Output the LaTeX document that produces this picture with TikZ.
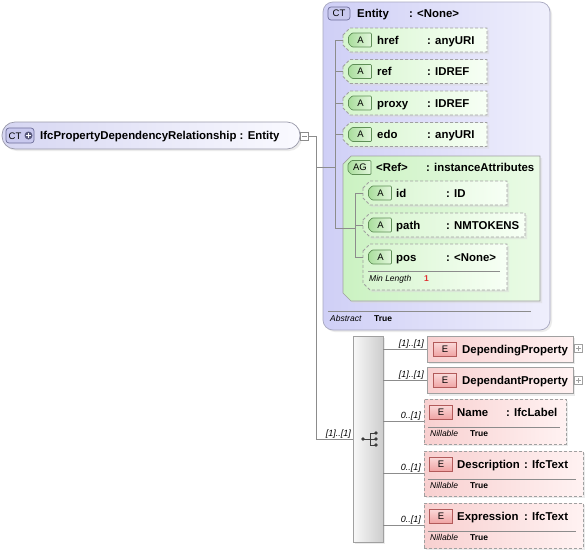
\documentclass[tikz,border=0pt]{standalone}
\usepackage{fontspec}
\setmainfont{Liberation Sans}
\usetikzlibrary{shadows}
\definecolor{linegray}{HTML}{8C8C8C}
\definecolor{dashgray}{HTML}{A0A0A0}
\definecolor{pillL}{HTML}{D6D6F2}
\definecolor{pillR}{HTML}{FAFAFF}
\definecolor{pillBd}{HTML}{9A9AAA}
\definecolor{entL}{HTML}{CFCFF6}
\definecolor{entR}{HTML}{EFEFFC}
\definecolor{entBd}{HTML}{A8A8C0}
\definecolor{attrL}{HTML}{D6F5CE}
\definecolor{attrR}{HTML}{F7FFF5}
\definecolor{agL}{HTML}{CBF2C2}
\definecolor{agR}{HTML}{EAFBE6}
\definecolor{elL}{HTML}{F8D0D0}
\definecolor{elR}{HTML}{FFF2F2}
\definecolor{ctBf}{HTML}{C9C9EE}
\definecolor{ctBd}{HTML}{6E6E9A}
\definecolor{aBfL}{HTML}{A9DD9C}
\definecolor{aBfR}{HTML}{E3F7DD}
\definecolor{aBd}{HTML}{5E8E56}
\definecolor{eBfT}{HTML}{FBDADA}
\definecolor{eBfB}{HTML}{EFA3A3}
\definecolor{eBd}{HTML}{B25A5A}
\definecolor{seqL}{HTML}{F8F8F8}
\definecolor{seqR}{HTML}{CDCDCD}
\definecolor{minred}{HTML}{E03030}
\definecolor{icon}{HTML}{3C3C3C}
% chamfered outline round a named node: #1 node, #2 chamfer, #3 style
\newcommand\chamfshape[3]{%
  \path[#3] ([yshift=-#2]#1.north west) -- ([xshift=#2]#1.north west) -- (#1.north east)
    -- (#1.south east) -- ([xshift=#2]#1.south west) -- ([yshift=#2]#1.south west) -- cycle;}
% attribute badge: #1 name, #2 x, #3 y, #4 text
\newcommand\attrbadge[4]{%
  \node[anchorbox, minimum width=23pt, minimum height=14pt] (#1) at (#2,#3) {};
  \chamfshape{#1}{3.5pt}{abadgefill}
  \node[badgetxt] (#1t) at ([xshift=0.5pt]#1.center) {#4};}
\tikzset{
  conn/.style={draw=linegray, line width=0.7pt},
  sepline/.style={draw=linegray, line width=0.6pt},
  txt/.style={inner sep=0pt, anchor=base west, font=\fontsize{11.4}{13}\selectfont\bfseries},
  small/.style={inner sep=0pt, anchor=base west, font=\fontsize{8.5}{10}\selectfont\itshape},
  smallb/.style={inner sep=0pt, anchor=base west, font=\fontsize{8.5}{10}\selectfont\bfseries},
  occ/.style={inner sep=0pt, anchor=base east, font=\fontsize{9}{10}\selectfont\itshape},
  shad/.style={drop shadow={shadow xshift=2pt, shadow yshift=-2pt, fill=black!15}},
  anchorbox/.style={rectangle, inner sep=0pt, outer sep=0pt},
  pill/.style={rectangle, rounded corners=13pt, draw=pillBd, line width=0.7pt, left color=pillL, right color=pillR, minimum width=298pt, minimum height=27pt, inner sep=0pt, shad},
  ctbox/.style={rectangle, rounded corners=10pt, draw=entBd, line width=0.7pt, left color=entL, right color=entR, inner sep=0pt, shad},
  attrfill/.style={draw=dashgray, dash pattern=on 3pt off 2pt, line width=0.8pt, left color=attrL, right color=attrR, shad},
  agfill/.style={draw=dashgray, line width=0.7pt, left color=agL, right color=agR, shad},
  abadgefill/.style={draw=aBd, line width=0.7pt, left color=aBfL, right color=aBfR, rounded corners=1pt},
  badgetxt/.style={inner sep=0pt, font=\fontsize{9.5}{10}\selectfont},
  elbox/.style={rectangle, draw=dashgray, line width=0.8pt, left color=elL, right color=elR, inner sep=0pt, shad},
  optel/.style={elbox, dash pattern=on 3pt off 2pt},
  seqbox/.style={rectangle, draw=dashgray, line width=0.7pt, left color=seqL, right color=seqR, minimum width=30pt, minimum height=206pt, inner sep=0pt, shad},
  ctbadge/.style={rectangle, rounded corners=3pt, draw=ctBd, line width=0.7pt, fill=ctBf, minimum width=22pt, minimum height=13pt, inner sep=0pt, font=\fontsize{9.5}{10}\selectfont},
  ebadge/.style={rectangle, draw=eBd, line width=0.7pt, top color=eBfT, bottom color=eBfB, minimum width=23pt, minimum height=14pt, inner sep=0pt, font=\fontsize{9.5}{10}\selectfont},
  expbox/.style={rectangle, draw=linegray, line width=0.6pt, fill=white, minimum size=8pt, inner sep=0pt},
}
\begin{document}
\begin{tikzpicture}[x=1pt,y=-1pt]
\useasboundingbox (0,0) rectangle (587,555);
\fill[white] (0,0) rectangle (587,555);

% ---------- root ----------
\node[pill] (root) at (151,135.5) {};
\node[ctbadge, minimum width=28pt, minimum height=15pt] (rootct) at (20,135.5) {};
\node[inner sep=0pt, anchor=base west, font=\fontsize{9.5}{10}\selectfont] (rootcttxt) at (8.5,139) {CT};
\node[circle, fill=ctBd!80!black, minimum size=8pt, inner sep=0pt] (rootplus) at (28.5,135.5) {};
\draw[white, line width=1.2pt] ([xshift=-2.5pt]rootplus.center) -- ([xshift=2.5pt]rootplus.center);
\draw[white, line width=1.2pt] ([yshift=-2.5pt]rootplus.center) -- ([yshift=2.5pt]rootplus.center);
\node[txt] (rootlbl) at (40,139.5) {IfcPropertyDependencyRelationship : Entity};
\node[expbox] (rootminus) at (304,136) {};
\draw[linegray, line width=0.6pt] ([xshift=-2.5pt]rootminus.center) -- ([xshift=2.5pt]rootminus.center);

% ---------- Entity ----------
\node[ctbox, minimum width=227pt, minimum height=328pt] (entity) at (436.5,166) {};
\node[ctbadge] (entct) at (339,13.5) {CT};
\node[txt] (entname) at (357,17.5) {Entity};
\node[txt] (enttype) at (409,17.5) {: <None>};

\node[anchorbox, minimum width=144pt, minimum height=24pt] (href) at (415,40) {};
\chamfshape{href}{7pt}{attrfill}
\attrbadge{hrefA}{360}{40}{A}
\node[txt] (hrefn) at (377,44) {href};
\node[txt] (hreft) at (427,44) {: anyURI};

\node[anchorbox, minimum width=144pt, minimum height=24pt] (ref) at (415,71.5) {};
\chamfshape{ref}{7pt}{attrfill}
\attrbadge{refA}{360}{71.5}{A}
\node[txt] (refn) at (377,75.5) {ref};
\node[txt] (reft) at (427,75.5) {: IDREF};

\node[anchorbox, minimum width=144pt, minimum height=24pt] (proxy) at (415,103) {};
\chamfshape{proxy}{7pt}{attrfill}
\attrbadge{proxyA}{360}{103}{A}
\node[txt] (proxyn) at (377,107) {proxy};
\node[txt] (proxyt) at (427,107) {: IDREF};

\node[anchorbox, minimum width=144pt, minimum height=24pt] (edo) at (415,134.5) {};
\chamfshape{edo}{7pt}{attrfill}
\attrbadge{edoA}{360}{134.5}{A}
\node[txt] (edon) at (377,138.5) {edo};
\node[txt] (edot) at (427,138.5) {: anyURI};

\node[anchorbox, minimum width=197pt, minimum height=145pt] (ag) at (441.5,228.5) {};
\chamfshape{ag}{8pt}{agfill}
\attrbadge{agA}{359.5}{167.5}{AG}
\node[txt] (agn) at (376,171.5) {<Ref>};
\node[txt] (agt) at (426,171.5) {: instanceAttributes};

\node[anchorbox, minimum width=144pt, minimum height=24pt] (id) at (435,193) {};
\chamfshape{id}{7pt}{attrfill}
\attrbadge{idA}{380}{193}{A}
\node[txt] (idn) at (396,197) {id};
\node[txt] (idt) at (446,197) {: ID};

\node[anchorbox, minimum width=162pt, minimum height=24pt] (path) at (444,225) {};
\chamfshape{path}{7pt}{attrfill}
\attrbadge{pathA}{380}{225}{A}
\node[txt] (pathn) at (396,229) {path};
\node[txt] (patht) at (446,229) {: NMTOKENS};

\node[anchorbox, minimum width=144pt, minimum height=46pt] (pos) at (435,267) {};
\chamfshape{pos}{7pt}{attrfill}
\attrbadge{posA}{380}{257}{A}
\node[txt] (posn) at (396,261) {pos};
\node[txt] (post) at (446,261) {: <None>};
\draw[sepline] (368,271.5) -- (500,271.5);
\node[small] (posml) at (369,281) {Min Length};
\node[smallb, text=minred] (posmlv) at (424,281) {1};

\draw[sepline] (328,311) -- (531,311);
\node[small] (entabs) at (330,321) {Abstract};
\node[smallb] (entabsv) at (374,321) {True};

% ---------- sequence ----------
\node[seqbox] (seq) at (368,439) {};
\fill[icon] (363,439) circle (1.8pt);
\fill[icon] (376,433) circle (1.8pt);
\fill[icon] (376,439) circle (1.8pt);
\fill[icon] (376,445) circle (1.8pt);
\draw[icon, line width=0.8pt] (363,439) -- (376,439) (370,433) -- (370,445) (370,433) -- (376,433) (370,445) -- (376,445);

% ---------- elements ----------
\node[elbox, minimum width=146pt, minimum height=26pt] (dep1) at (500,349) {};
\node[ebadge] (dep1E) at (445,349) {E};
\node[txt] (dep1n) at (462,353) {DependingProperty};
\node[expbox, minimum size=7.5pt, draw=dashgray] (dep1plus) at (578.5,348.5) {};
\draw[dashgray, line width=0.6pt] ([xshift=-2.2pt]dep1plus.center) -- ([xshift=2.2pt]dep1plus.center) ([yshift=-2.2pt]dep1plus.center) -- ([yshift=2.2pt]dep1plus.center);

\node[elbox, minimum width=146pt, minimum height=26pt] (dep2) at (500,380.5) {};
\node[ebadge] (dep2E) at (445,380.5) {E};
\node[txt] (dep2n) at (462,384.5) {DependantProperty};
\node[expbox, minimum size=7.5pt, draw=dashgray] (dep2plus) at (578.5,380.5) {};
\draw[dashgray, line width=0.6pt] ([xshift=-2.2pt]dep2plus.center) -- ([xshift=2.2pt]dep2plus.center) ([yshift=-2.2pt]dep2plus.center) -- ([yshift=2.2pt]dep2plus.center);

\node[optel, minimum width=142pt, minimum height=45pt] (name) at (495,421.5) {};
\node[ebadge] (nameE) at (441,412) {E};
\node[txt] (namen) at (457,416) {Name};
\node[txt] (namet) at (506,416) {: IfcLabel};
\draw[sepline] (428,427.5) -- (560,427.5);
\node[small] (namenil) at (430,436.5) {Nillable};
\node[smallb] (namenilv) at (470,436.5) {True};

\node[optel, minimum width=159pt, minimum height=45pt] (desc) at (503.5,473.5) {};
\node[ebadge] (descE) at (441,464) {E};
\node[txt] (descn) at (457,468) {Description};
\node[txt] (desct) at (524,468) {: IfcText};
\draw[sepline] (428,479) -- (576,479);
\node[small] (descnil) at (430,488) {Nillable};
\node[smallb] (descnilv) at (470,488) {True};

\node[optel, minimum width=159pt, minimum height=45pt] (expr) at (503.5,525.5) {};
\node[ebadge] (exprE) at (441,516) {E};
\node[txt] (exprn) at (457,520) {Expression};
\node[txt] (exprt) at (524,520) {: IfcText};
\draw[sepline] (428,531) -- (576,531);
\node[small] (exprnil) at (430,540) {Nillable};
\node[smallb] (exprnilv) at (470,540) {True};

% ---------- connectors ----------
\coordinate (ja) at (316,136);
\coordinate (jb) at (316,167);
\coordinate (ea) at (335,167);
\coordinate (agj) at (335,228);
\coordinate (agk) at (355,228);
\draw[conn] (rootminus.east) -- (ja) |- (seq.west);
\node[occ] (occroot) at (351,436) {[1]..[1]};
\draw[conn] (jb) -- (ea);
\draw[conn] (href.west -| ea) -- (agj) -- (agk);
\draw[conn] (href.west -| ea) -- (href.west);
\draw[conn] (ref.west -| ea) -- (ref.west);
\draw[conn] (proxy.west -| ea) -- (proxy.west);
\draw[conn] (edo.west -| ea) -- (edo.west);
\draw[conn] (id.west -| agk) -- ([yshift=10pt]pos.west -| agk);
\draw[conn] (id.west -| agk) -- (id.west);
\draw[conn] (path.west -| agk) -- (path.west);
\draw[conn] ([yshift=10pt]pos.west -| agk) -- ([yshift=10pt]pos.west);

\draw[conn] (seq.east |- dep1.west) -- (dep1.west);
\node[occ] (occ1) at (424,346) {[1]..[1]};
\draw[conn] (seq.east |- dep2.west) -- (dep2.west);
\node[occ] (occ2) at (424,377.5) {[1]..[1]};
\draw[conn] (seq.east |- name.west) -- (name.west);
\node[occ] (occ3) at (421,418.5) {0..[1]};
\draw[conn] (seq.east |- desc.west) -- (desc.west);
\node[occ] (occ4) at (421,470.5) {0..[1]};
\draw[conn] (seq.east |- expr.west) -- (expr.west);
\node[occ] (occ5) at (421,522.5) {0..[1]};
\end{tikzpicture}
\end{document}
